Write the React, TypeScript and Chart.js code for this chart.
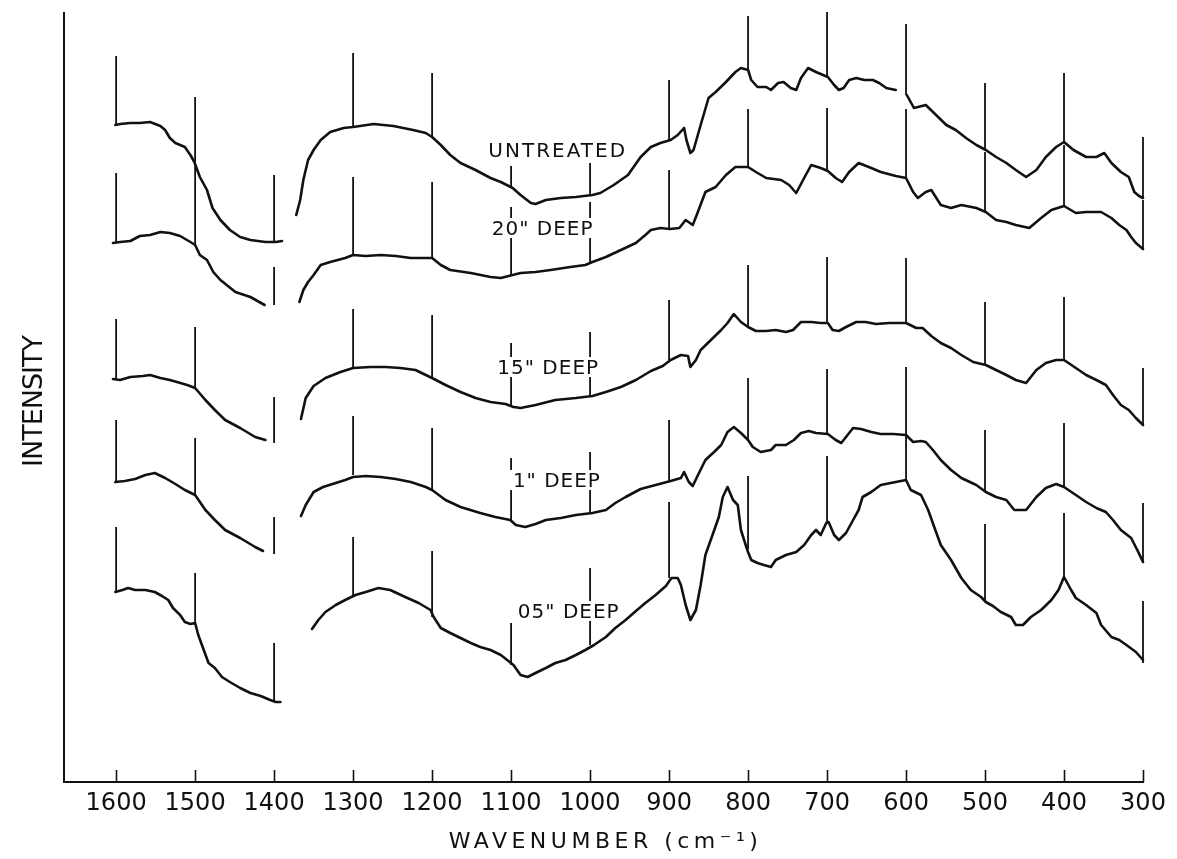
import React, { useEffect, useRef } from 'react';
import { Chart, registerables } from 'chart.js';

Chart.register(...registerables);

// Wavenumber tick labels (cm-1), also the calibration-marker positions
const tickValues = [1600, 1500, 1400, 1300, 1200, 1100, 1000, 900, 800, 700, 600, 500, 400, 300];

// Spectra: [wavenumber, intensity (arbitrary units)], null = pen lifted
const untreated: Array<[number, number | null]> = [
  [1601, 658], [1595, 659], [1582, 660], [1570, 660], [1557, 661], [1544, 657], [1538, 653], [1532, 645], [1525, 640],
  [1513, 636], [1506, 628], [1501, 621], [1494, 606], [1485, 593], [1478, 575], [1468, 563], [1456, 553], [1443, 546],
  [1430, 543], [1411, 541], [1398, 541], [1390, 542], [1381, null],
  [1372, 568], [1367, 583], [1363, 603], [1357, 623], [1350, 633], [1341, 643], [1329, 651], [1312, 655], [1300, 656],
  [1274, 659], [1249, 657], [1224, 653], [1208, 650], [1200, 646], [1189, 638], [1177, 628], [1164, 620], [1145, 613],
  [1126, 605], [1113, 601], [1098, 595], [1088, 588], [1075, 580], [1069, 579], [1056, 583], [1037, 585], [1018, 586],
  [997, 588], [987, 590], [970, 598], [952, 608], [936, 626], [923, 636], [911, 640], [898, 643], [889, 648], [881, 655],
  [878, 643], [873, 630], [869, 633], [860, 658], [850, 685], [841, 691], [828, 701], [816, 711], [809, 715], [800, 713],
  [796, 703], [788, 696], [777, 696], [771, 693], [762, 700], [755, 701], [746, 695], [739, 693], [733, 705], [724, 715],
  [714, 711], [705, 708], [699, 706], [691, 698], [685, 693], [679, 695], [672, 703], [663, 705], [653, 703], [642, 703],
  [634, 700], [625, 695], [613, 693], [606, null],
  [599, 688], [590, 675], [575, 678], [562, 668], [549, 658], [537, 653], [524, 645], [511, 638], [499, 633], [486, 626],
  [473, 620], [461, 613], [448, 606], [435, 613], [423, 626], [410, 636], [400, 641], [388, 633], [372, 626], [359, 626],
  [349, 630], [340, 620], [328, 611], [318, 606], [311, 591], [305, 587], [300, 585],
];

const deep20: Array<[number, number | null]> = [
  [1604, 540], [1595, 541], [1582, 542], [1570, 547], [1557, 548], [1544, 551], [1532, 550], [1519, 547], [1506, 541],
  [1500, 538], [1494, 528], [1485, 523], [1477, 511], [1468, 503], [1449, 491], [1430, 486], [1412, 478], [1390, null],
  [1368, 481], [1363, 493], [1357, 501], [1350, 508], [1341, 518], [1329, 521], [1310, 525], [1300, 528], [1284, 527],
  [1265, 528], [1246, 527], [1227, 525], [1208, 525], [1200, 525], [1189, 518], [1177, 513], [1151, 510], [1126, 506],
  [1113, 505], [1098, 508], [1088, 510], [1069, 511], [1050, 513], [1025, 516], [1006, 518], [997, 521], [980, 526],
  [961, 533], [942, 540], [930, 548], [923, 553], [911, 555], [899, 554], [887, 555], [879, 563], [870, 558], [865, 568],
  [854, 591], [841, 596], [828, 608], [816, 616], [800, 616], [790, 611], [777, 605], [758, 603], [748, 598], [739, 590],
  [729, 605], [720, 618], [708, 615], [699, 612], [689, 605], [681, 601], [672, 611], [660, 620], [644, 615], [632, 611],
  [613, 607], [600, 605], [591, 591], [585, 585], [575, 591], [568, 593], [556, 578], [543, 575], [530, 578], [511, 575],
  [499, 571], [486, 563], [473, 561], [461, 558], [444, 555], [429, 565], [416, 573], [400, 577], [385, 570], [372, 571],
  [353, 571], [340, 565], [330, 558], [321, 553], [315, 546], [309, 540], [300, 534],
];

const deep15: Array<[number, number | null]> = [
  [1604, 404], [1595, 403], [1582, 406], [1566, 407], [1557, 408], [1544, 405], [1532, 403], [1523, 401], [1510, 398],
  [1500, 395], [1487, 383], [1475, 373], [1462, 363], [1443, 355], [1424, 346], [1411, 343], [1390, null],
  [1366, 364], [1360, 385], [1350, 397], [1335, 405], [1316, 411], [1300, 415], [1278, 416], [1259, 416], [1240, 415],
  [1221, 413], [1208, 408], [1200, 405], [1183, 398], [1164, 391], [1145, 385], [1126, 381], [1107, 379], [1097, 376],
  [1088, 375], [1069, 378], [1044, 383], [1018, 385], [997, 387], [980, 391], [961, 396], [942, 403], [923, 412],
  [908, 417], [898, 423], [885, 428], [876, 427], [873, 416], [866, 423], [860, 433], [847, 443], [834, 453], [826, 460],
  [818, 469], [809, 461], [800, 456], [790, 452], [777, 452], [765, 453], [752, 451], [743, 453], [733, 461], [720, 461],
  [708, 460], [699, 460], [693, 453], [685, 452], [676, 456], [663, 461], [651, 461], [638, 459], [621, 460], [600, 460],
  [587, 455], [579, 455], [568, 447], [556, 440], [543, 435], [530, 428], [515, 421], [499, 418], [486, 413], [473, 408],
  [461, 403], [448, 400], [435, 413], [423, 420], [410, 423], [400, 423], [385, 415], [372, 408], [359, 403], [347, 398],
  [338, 388], [328, 378], [318, 373], [309, 365], [300, 358],
];

const deep1: Array<[number, number | null]> = [
  [1601, 301], [1589, 302], [1576, 304], [1563, 308], [1551, 310], [1538, 305], [1525, 299], [1513, 293], [1500, 288],
  [1487, 273], [1475, 263], [1462, 253], [1443, 245], [1424, 236], [1414, 232], [1390, null],
  [1366, 267], [1360, 278], [1350, 291], [1338, 296], [1322, 300], [1310, 303], [1300, 306], [1284, 307], [1265, 306],
  [1246, 304], [1227, 301], [1208, 296], [1200, 293], [1183, 283], [1164, 276], [1139, 270], [1120, 266], [1101, 263],
  [1094, 258], [1082, 256], [1069, 259], [1056, 263], [1037, 265], [1018, 268], [997, 270], [980, 273], [968, 280],
  [955, 286], [936, 294], [917, 298], [898, 302], [885, 305], [881, 311], [875, 301], [870, 297], [864, 307], [854, 323],
  [843, 331], [834, 338], [826, 351], [818, 356], [809, 350], [800, 343], [794, 336], [784, 331], [771, 333], [765, 338],
  [752, 338], [742, 343], [733, 350], [723, 352], [714, 350], [699, 349], [689, 343], [682, 340], [676, 346], [667, 355],
  [657, 354], [644, 351], [632, 349], [616, 349], [600, 348], [591, 341], [581, 342], [575, 341], [566, 333], [556, 323],
  [543, 313], [530, 305], [511, 298], [499, 291], [486, 286], [473, 283], [463, 273], [448, 273], [435, 286], [423, 295],
  [410, 299], [400, 296], [385, 288], [372, 281], [359, 275], [347, 271], [338, 263], [328, 253], [315, 245], [306, 231],
  [300, 221],
];

const deep05: Array<[number, number | null]> = [
  [1601, 191], [1592, 193], [1585, 195], [1576, 193], [1563, 193], [1551, 191], [1542, 187], [1534, 183], [1528, 175],
  [1519, 168], [1513, 161], [1506, 159], [1500, 160], [1496, 148], [1490, 135], [1483, 120], [1475, 115], [1466, 106],
  [1456, 101], [1443, 95], [1430, 90], [1417, 87], [1405, 83], [1398, 81], [1392, 81], [1372, null],
  [1352, 154], [1344, 163], [1335, 171], [1322, 178], [1310, 183], [1297, 188], [1284, 191], [1268, 195], [1253, 193],
  [1234, 186], [1217, 180], [1202, 173], [1198, 166], [1189, 155], [1177, 150], [1164, 145], [1151, 140], [1139, 136],
  [1126, 133], [1113, 128], [1097, 118], [1088, 108], [1079, 106], [1069, 110], [1056, 115], [1044, 120], [1031, 123],
  [1018, 128], [1006, 133], [995, 138], [980, 146], [968, 155], [955, 163], [942, 172], [930, 180], [917, 188], [904, 197],
  [897, 205], [889, 205], [885, 198], [879, 178], [873, 163], [866, 173], [860, 198], [854, 228], [845, 248], [837, 266],
  [832, 286], [826, 296], [819, 283], [813, 278], [809, 253], [803, 238], [800, 231], [796, 223], [788, 220], [780, 218],
  [771, 216], [765, 223], [752, 228], [739, 231], [729, 238], [720, 248], [714, 253], [708, 248], [701, 260], [698, 261],
  [691, 248], [685, 243], [676, 250], [667, 263], [660, 273], [655, 286], [644, 291], [632, 298], [613, 301], [600, 303],
  [594, 293], [581, 288], [572, 273], [562, 251], [556, 238], [543, 223], [530, 205], [518, 193], [505, 186], [499, 181],
  [490, 177], [480, 171], [467, 166], [461, 158], [452, 158], [442, 166], [429, 173], [416, 183], [407, 193], [400, 206],
  [391, 193], [385, 185], [372, 178], [359, 170], [353, 158], [340, 146], [330, 143], [321, 138], [309, 131], [300, 123],
];

// Calibration markers (one per tick value): lower and upper intensity ends
const untreatedMarkBottom = [658, 621, 540, 656, 646, 595, 588, 643, 713, 706, 688, 633, 641, 585];
const untreatedMarkTop = [727, 686, 608, 730, 710, 617, 620, 703, 767, 771, 759, 700, 710, 646];
const deep20MarkBottom = [540, 538, 478, 528, 525, 508, 521, 554, 616, 612, 605, 571, 577, 534];
const deep20MarkTop = [610, 620, 516, 606, 601, 576, 581, 613, 674, 675, 674, 631, 638, 583];
const deep15MarkBottom = [404, 395, 340, 415, 405, 376, 387, 423, 456, 460, 460, 418, 423, 358];
const deep15MarkTop = [464, 456, 386, 474, 468, 440, 451, 483, 518, 526, 525, 481, 486, 415];
const deep1MarkBottom = [301, 288, 229, 308, 293, 263, 270, 302, 343, 349, 348, 291, 296, 220];
const deep1MarkTop = [363, 345, 266, 367, 355, 325, 331, 363, 405, 414, 416, 353, 360, 280];
const deep05MarkBottom = [191, 160, 81, 188, 166, 118, 138, 205, 234, 261, 303, 183, 206, 120];
const deep05MarkTop = [256, 210, 140, 246, 232, 160, 215, 281, 307, 327, 348, 259, 270, 182];

// Trace labels and where they sit (wavenumber, intensity)
const traceNames = ['UNTREATED', '20" DEEP', '15" DEEP', '1" DEEP', '05" DEEP'];
const labelWave = [1041, 1060, 1053, 1042, 1027];
const labelLevel = [633, 555, 416, 303, 172];

const xTitle = 'WAVENUMBER (cm\u207B\u00B9)';
const yTitle = 'INTENSITY';

const FONT = '"DejaVu Sans", "Liberation Sans", sans-serif';
const INK = '#111';

function toPoints(pairs: Array<[number, number | null]>) {
  return pairs.map(([x, y]) => ({ x, y }));
}

function toMarkers(bottom: number[], top: number[]) {
  const pts: { x: number; y: number | null }[] = [];
  tickValues.forEach((w, i) => {
    pts.push({ x: w, y: bottom[i] }, { x: w, y: top[i] }, { x: w, y: null });
  });
  return pts;
}

const annotatePlugin = {
  id: 'annotate',
  afterDatasetsDraw(chart: any) {
    const { ctx, chartArea, scales } = chart;
    const x = scales.x;
    const y = scales.y;
    ctx.save();
    // inward tick marks on the wavenumber axis
    ctx.strokeStyle = INK;
    ctx.lineWidth = 1.6;
    x.ticks.forEach((t: any) => {
      const px = Math.round(x.getPixelForValue(t.value)) + 0.5;
      ctx.beginPath();
      ctx.moveTo(px, chartArea.bottom);
      ctx.lineTo(px, chartArea.bottom - 12);
      ctx.stroke();
    });
    // trace labels
    const size = 20;
    ctx.font = `${size}px ${FONT}`;
    ctx.textAlign = 'center';
    ctx.textBaseline = 'alphabetic';
    traceNames.forEach((name, i) => {
      (ctx as any).letterSpacing = i === 0 ? '2px' : '1px';
      const cx = x.getPixelForValue(labelWave[i]);
      const cy = y.getPixelForValue(labelLevel[i]);
      const w = ctx.measureText(name).width;
      ctx.fillStyle = '#fff';
      ctx.fillRect(cx - w / 2 - 3, cy - size * 0.5, w + 6, size);
      ctx.fillStyle = INK;
      ctx.fillText(name, cx, cy + size * 0.365);
    });
    ctx.restore();
  },
  afterDraw(chart: any) {
    const { ctx, chartArea, height } = chart;
    ctx.save();
    ctx.fillStyle = INK;
    ctx.textAlign = 'center';
    ctx.textBaseline = 'alphabetic';
    // x title
    const xs = 22;
    ctx.font = `${xs}px ${FONT}`;
    (ctx as any).letterSpacing = '4.5px';
    ctx.fillText(xTitle, (chartArea.left + chartArea.right) / 2 + 2, height - 19 + xs * 0.365);
    // y title
    const ys = 27;
    ctx.font = `${ys}px ${FONT}`;
    (ctx as any).letterSpacing = '-1px';
    ctx.translate(32, (chartArea.top + chartArea.bottom) / 2 + 4);
    ctx.rotate(-Math.PI / 2);
    ctx.fillText(yTitle, 0, ys * 0.365);
    ctx.restore();
  },
};

export default function App() {
  const canvasRef = useRef<HTMLCanvasElement | null>(null);

  useEffect(() => {
    document.body.style.margin = '0';
    const canvas = canvasRef.current;
    if (!canvas) return;

    const traces = [untreated, deep20, deep15, deep1, deep05];
    const marks = [
      [untreatedMarkBottom, untreatedMarkTop],
      [deep20MarkBottom, deep20MarkTop],
      [deep15MarkBottom, deep15MarkTop],
      [deep1MarkBottom, deep1MarkTop],
      [deep05MarkBottom, deep05MarkTop],
    ];

    const datasets: any[] = [];
    traces.forEach((t, i) => {
      datasets.push({
        label: traceNames[i],
        data: toPoints(t),
        borderColor: INK,
        borderWidth: 2.6,
        pointRadius: 0,
        tension: 0,
        fill: false,
        clip: false,
        borderJoinStyle: 'round',
        borderCapStyle: 'round',
      });
      datasets.push({
        label: traceNames[i] + ' markers',
        data: toMarkers(marks[i][0], marks[i][1]),
        borderColor: INK,
        borderWidth: 1.8,
        pointRadius: 0,
        tension: 0,
        fill: false,
        clip: false,
      });
    });

    const chart = new Chart(canvas, {
      type: 'line',
      data: { datasets },
      options: {
        animation: false,
        responsive: false,
        devicePixelRatio: 1,
        events: [],
        layout: { padding: { left: 0, right: 34, top: 13, bottom: 0 } },
        plugins: { legend: { display: false }, tooltip: { enabled: false } },
        elements: { point: { radius: 0 }, line: { tension: 0 } },
        scales: {
          x: {
            type: 'linear',
            reverse: true,
            min: 300,
            max: 1666,
            afterBuildTicks: (s: any) => {
              s.ticks = [...tickValues].sort((a, b) => a - b).map((v) => ({ value: v }));
            },
            afterFit: (s: any) => {
              s.height = 77;
              s.paddingLeft = 0;
              s.paddingRight = 0;
            },
            grid: { display: false, drawTicks: false },
            border: { display: true, color: INK, width: 2 },
            ticks: {
              color: INK,
              font: { family: FONT, size: 24, lineHeight: 1.2 },
              padding: 7,
              autoSkip: false,
              maxRotation: 0,
              minRotation: 0,
              callback: (v: any) => String(v),
            },
          },
          y: {
            type: 'linear',
            min: 1,
            max: 770,
            afterFit: (s: any) => {
              s.width = 64;
            },
            grid: { display: false, drawTicks: false },
            border: { display: true, color: INK, width: 2 },
            ticks: { display: false },
          },
        },
      } as any,
      plugins: [annotatePlugin],
    });

    return () => chart.destroy();
  }, []);

  return (
    <div style={{ position: 'absolute', left: 0, top: 0, width: 1177, height: 859, background: '#fff' }}>
      <canvas ref={canvasRef} width={1177} height={859} style={{ display: 'block' }} />
    </div>
  );
}
